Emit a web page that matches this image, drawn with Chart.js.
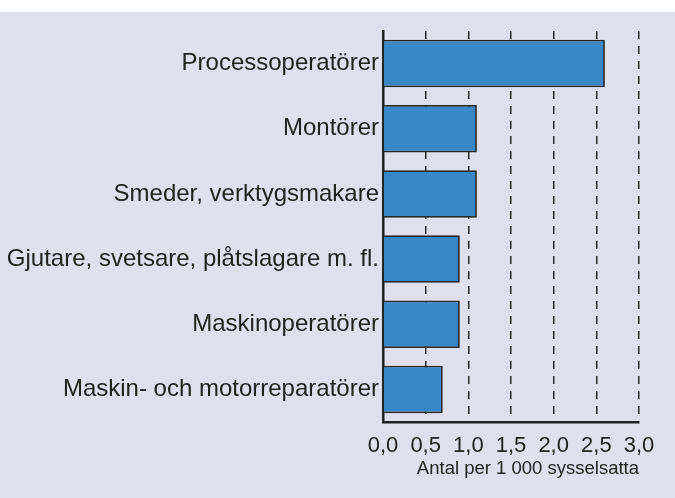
<!DOCTYPE html>
<html>
<head>
<meta charset="utf-8">
<script src="https://cdn.jsdelivr.net/npm/chart.js@4.4.1/dist/chart.umd.min.js"></script>
<style>
  html, body { margin: 0; padding: 0; background: #ffffff; }
  #wrap { position: absolute; left: 0; top: 12px; width: 675px; height: 486px; background: #dfe0ee; }
  canvas { display: block; }
</style>
</head>
<body>
<div id="wrap"><canvas id="c" width="675" height="486"></canvas></div>
<script>
const categories = [
  "Processoperatörer",
  "Montörer",
  "Smeder, verktygsmakare",
  "Gjutare, svetsare, plåtslagare m. fl.",
  "Maskinoperatörer",
  "Maskin- och motorreparatörer"
];
const values = [2.6, 1.1, 1.1, 0.9, 0.9, 0.7];
const xMin = 0, xMax = 3.0, xStep = 0.5;
const xTitle = "Antal per 1 000 sysselsatta";

const FONT = "'Liberation Sans', Arial, sans-serif";
const TXT = "#222222";

new Chart(document.getElementById('c'), {
  type: 'bar',
  data: {
    labels: categories,
    datasets: [{
      data: values,
      backgroundColor: '#3a87c8',
      borderColor: '#262626',
      borderWidth: 1.8,
      barPercentage: 0.73,
      categoryPercentage: 1.0
    }]
  },
  options: {
    indexAxis: 'y',
    responsive: false,
    animation: false,
    layout: { padding: { top: 19, right: 36, left: 0, bottom: 0 } },
    plugins: { legend: { display: false }, tooltip: { enabled: false } },
    scales: {
      x: {
        type: 'linear',
        min: xMin, max: xMax,
        afterFit: (s) => { s.height = 76; },
        ticks: {
          stepSize: xStep,
          autoSkip: false,
          maxRotation: 0,
          padding: 11,
          color: TXT,
          font: { family: FONT, size: 22 },
          callback: (v) => Number(v).toFixed(1).replace('.', ',')
        },
        grid: {
          drawTicks: false,
          color: (ctx) => (ctx.tick && ctx.tick.value === 0) ? 'rgba(0,0,0,0)' : '#2a2a2a',
          lineWidth: 1.5
        },
        border: { display: true, color: '#222222', width: 2.5, dash: [8, 7] },
        title: {
          display: true,
          text: xTitle,
          align: 'end',
          color: TXT,
          font: { family: FONT, size: 18.5 },
          padding: { top: 2, bottom: 18 }
        }
      },
      y: {
        afterFit: (s) => { s.width = 383; },
        grid: { display: false, drawTicks: false },
        border: { display: true, color: '#222222', width: 2.5 },
        ticks: {
          padding: 4,
          autoSkip: false,
          color: TXT,
          font: { family: FONT, size: 24 }
        }
      }
    }
  }
});
</script>
</body>
</html>
